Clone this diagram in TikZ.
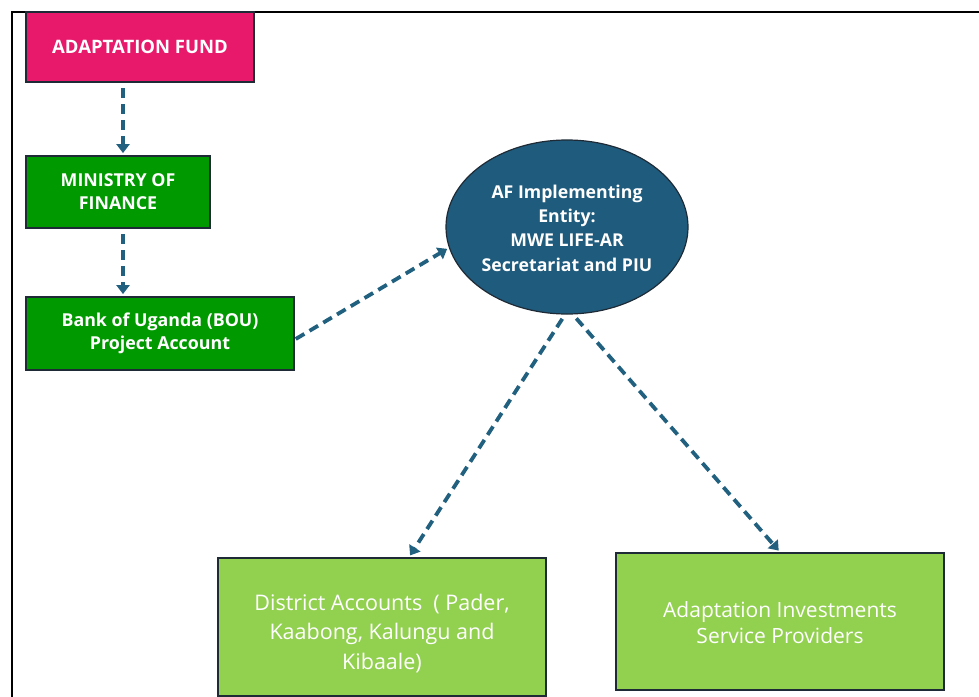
\documentclass[tikz,border=0pt]{standalone}
\usepackage{fontspec}
\setmainfont{Open Sans}
\usetikzlibrary{arrows.meta, positioning, shapes.geometric}
\definecolor{fundpink}{HTML}{E8186A}
\definecolor{govgreen}{HTML}{009A00}
\definecolor{fieldgreen}{HTML}{92D050}
\definecolor{entityblue}{HTML}{1F5B7D}
\definecolor{flowblue}{HTML}{21607F}
\definecolor{edgedark}{HTML}{1E2B36}

\begin{document}
\begin{tikzpicture}[
    x=1pt, y=-1pt,
    box/.style={draw=edgedark, line width=1.8pt, fill=#1, text=white, align=center, inner sep=2pt},
    fundbox/.style={box=fundpink, minimum width=228, minimum height=70, font=\fontsize{18.5}{22}\selectfont\bfseries},
    greenbox/.style={box=govgreen, font=\fontsize{17.8}{23}\selectfont\bfseries},
    lightbox/.style={box=fieldgreen, minimum width=328, text depth=0pt, font=\fontsize{21.5}{29.5}\selectfont},
    entitybox/.style={ellipse, draw=edgedark, line width=1.2pt, fill=entityblue, text=white, align=center,
        minimum width=242, minimum height=174, inner sep=0pt, font=\fontsize{17.7}{24.2}\selectfont\bfseries},
    flow/.style={draw=flowblue, line width=3.8pt, dash pattern=on 10pt off 6pt,
        -{Triangle[length=9pt, width=13pt]}, shorten <=5pt, shorten >=2pt},
]
    \useasboundingbox (0,0) rectangle (979,696);
    % outer frame
    \draw[line width=2.4pt] (12,700) -- (12,12) -- (985,12);

    % sources of funds
    \node[fundbox] (adfund) at (140,47) {ADAPTATION FUND};
    \node[greenbox, minimum width=184, minimum height=72] (mof) at (118,192) {MINISTRY OF\\FINANCE};
    \node[greenbox, minimum width=268, minimum height=73] (bou) at (160,333.5) {Bank of Uganda (BOU)\\Project Account};

    % implementing entity
    \node[entitybox, text height=88pt, text depth=0pt] (entity) at (567,227) {AF Implementing\\Entity:\\MWE LIFE-AR\\Secretariat and PIU};

    % recipients
    \node[lightbox, minimum height=138, text height=84pt] (district) at (382,627) {District Accounts\ \ ( Pader,\\Kaabong, Kalungu and\\Kibaale)};
    \node[lightbox, minimum height=137, text height=43pt, font=\fontsize{21}{26}\selectfont] (providers) at (780,621.5) {Adaptation Investments\\Service Providers};

    % flow of funds
    \draw[flow] ([xshift=5pt]mof.north |- adfund.south) -- ([xshift=5pt]mof.north);
    \draw[flow] ([xshift=5pt]mof.south) -- ([xshift=5pt]mof.south |- bou.north);
    \draw[flow, shorten <=1pt] ([yshift=-6pt]bou.east) -- (entity.190);
    \draw[flow] ([xshift=-2pt]entity.south) -- ([xshift=27pt]district.north);
    \draw[flow] ([xshift=6pt]entity.south) -- (providers.north);
\end{tikzpicture}
\end{document}
